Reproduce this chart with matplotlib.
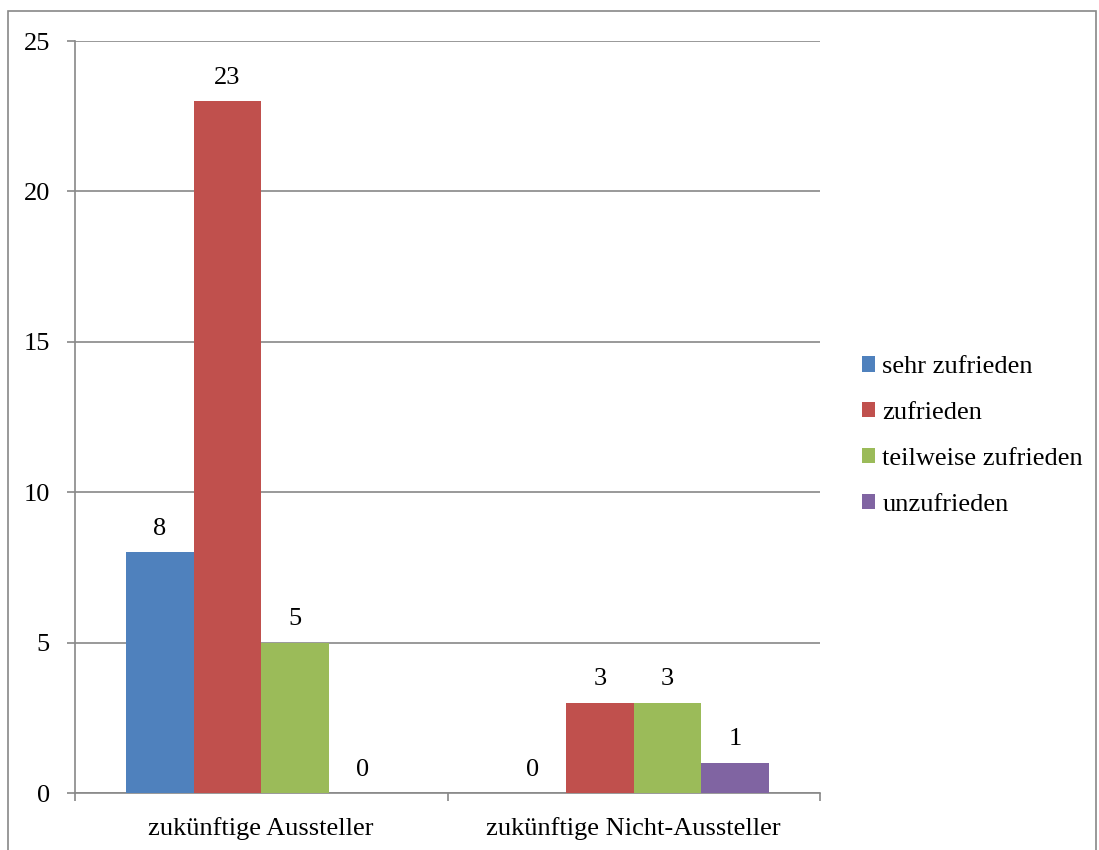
import matplotlib.pyplot as plt
import matplotlib.patches as mpatches
import numpy as np

categories = ["zukünftige Aussteller", "zukünftige Nicht-Aussteller"]
series = ["sehr zufrieden", "zufrieden", "teilweise zufrieden", "unzufrieden"]
values = {
    "sehr zufrieden": [8, 0],
    "zufrieden": [23, 3],
    "teilweise zufrieden": [5, 3],
    "unzufrieden": [0, 1],
}
colors = ["#4F81BD", "#C0504D", "#9BBB59", "#8064A2"]

plt.rcParams['font.family'] = ['Liberation Serif', 'DejaVu Serif']
fs = 19

fig = plt.figure(figsize=(10.99, 8.5), dpi=100)
ax = fig.add_axes([75/1099, 1 - 793/850, (820 - 75)/1099, (793 - 41)/850])

# outer chart border (bottom edge falls outside the image)
border = mpatches.Rectangle((8/1099, -0.05), (1096 - 8)/1099, 1.05 - 11/850,
                            transform=fig.transFigure, fill=False,
                            edgecolor="#888888", linewidth=1.2, clip_on=False)
fig.patches.append(border)

x = np.arange(len(categories)) + 0.5
w = 1 / 5.5
for i, (name, c) in enumerate(zip(series, colors)):
    xs = x + (i - 1.5) * w
    ax.bar(xs, values[name], width=w, color=c, label=name, zorder=3)
    for xi, v in zip(xs, values[name]):
        ax.annotate(str(v), (xi, v), xytext=(0, 9), textcoords="offset points",
                    ha="center", va="bottom", fontsize=fs)

ax.set_xlim(0, 2)
ax.set_ylim(0, 25)
ax.set_yticks(range(0, 26, 5))
ax.yaxis.grid(True, color="#888888", linewidth=1.2, zorder=0)
ax.set_axisbelow(True)

ax.set_xticks([0, 1, 2])
ax.set_xticklabels([])
ax.set_xticks(x, minor=True)
ax.set_xticklabels(categories, minor=True, fontsize=fs)
ax.tick_params(axis="x", which="minor", length=0, pad=17)
ax.tick_params(axis="x", which="major", length=6, color="#888888", width=1.2)
ax.tick_params(axis="y", length=6, color="#888888", width=1.2, labelsize=fs, pad=12)

for s in ["top", "right"]:
    ax.spines[s].set_visible(False)
for s in ["left", "bottom"]:
    ax.spines[s].set_color("#888888")
    ax.spines[s].set_linewidth(1.2)

leg = fig.legend(loc="center left", bbox_to_anchor=(862/1099, 1 - 436/850),
                 frameon=False, fontsize=fs, handlelength=0.5, handleheight=0.5,
                 handletextpad=0.27, labelspacing=0.9, borderpad=0, borderaxespad=0)

plt.savefig("out.png", dpi=100)
